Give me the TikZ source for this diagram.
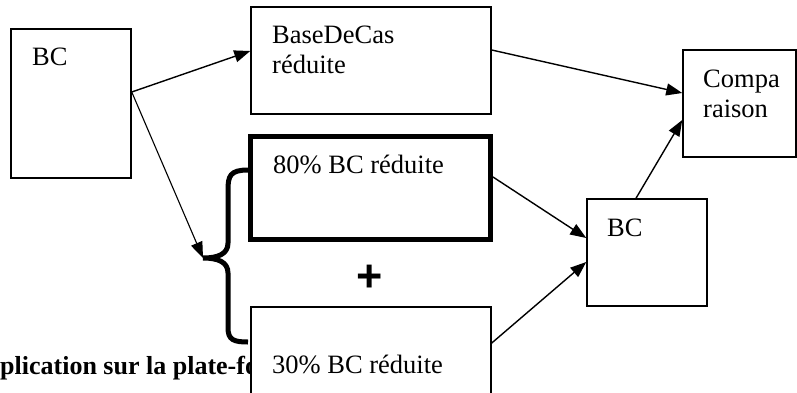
\documentclass[tikz,border=0pt]{standalone}
\usepackage{fontspec}
\setmainfont{Liberation Serif}
\newfontfamily\plusfont{Liberation Sans}
\usetikzlibrary{arrows.meta, calc}

\tikzset{
	box/.style={draw, line width=1.5pt, fill=white, inner sep=0pt},
	heavybox/.style={box, line width=5pt},
	txt/.style={anchor=base west, inner sep=0pt, align=left, font=\fontsize{26.5}{30}\selectfont},
	arrowline/.style={line width=1.4pt, -{Triangle[length=16pt, width=12pt]}},
}

\begin{document}
\begin{tikzpicture}[x=1pt, y=-1pt]
	\useasboundingbox (0,0) rectangle (797,392);
	% caption line, half hidden by the lower box
	\node [txt, font=\fontsize{26}{30}\selectfont\bfseries] (caption) at (0,374) {plication sur la plate-fo};
	% boxes
	\node [box, minimum width=120pt, minimum height=149pt] (bc) at (71,103.5) {};
	\node [box, minimum width=240pt, minimum height=107pt] (bdc) at (371,60.5) {};
	\node [heavybox, minimum width=240pt, minimum height=103pt] (p80) at (370.5,188) {};
	\node [box, minimum width=240pt, minimum height=93pt] (p30) at (371,353.5) {};
	\node [box, minimum width=120pt, minimum height=107pt] (bcr) at (647,252.5) {};
	\node [box, minimum width=113pt, minimum height=107pt] (cmp) at (739.5,103.5) {};
	% texts
	\node [txt] (bcText) at (32,65) {BC};
	\node [txt] (bdcText) at (272,73) {BaseDeCas\\réduite};
	\node [txt] (p80Text) at (273,173) {80\% BC réduite};
	\node [txt] (p30Text) at (272,373) {30\% BC réduite};
	\node [txt] (bcrText) at (607,236) {BC};
	\node [txt] (cmpText) at (703,117) {Compa\\raison};
	\node [font=\fontsize{45}{45}\selectfont\plusfont\bfseries, inner sep=0pt] (plus) at (370,278) {+};
	% brace
	\coordinate (tip) at (203,258);
	\draw [line width=5pt] (248,170) .. controls (230,170) and (228,176) .. (228,190) -- (228,243)
		.. controls (228,254) and (218,258) .. (tip)
		.. controls (218,258) and (228,262) .. (228,273) -- (228,328)
		.. controls (228,340) and (234,342) .. (248,342);
	% arrows
	\draw [arrowline] ([yshift=11.5pt]bc.east) -- ([yshift=9.5pt]bdc.west);
	\draw [arrowline, line width=1.1pt] ([yshift=11.5pt]bc.east) -- (tip);
	\draw [arrowline] ([yshift=10.5pt]bdc.east) -- ([yshift=10.5pt]cmp.west);
	\draw [arrowline] ([yshift=11pt]p80.east) -- ([yshift=14.5pt]bcr.west);
	\draw [arrowline] ([yshift=10.5pt]p30.east) -- ([yshift=-9.5pt]bcr.west);
	\draw [arrowline] ([xshift=-11pt]bcr.north) -- ([yshift=-16.5pt]cmp.west);
\end{tikzpicture}
\end{document}
